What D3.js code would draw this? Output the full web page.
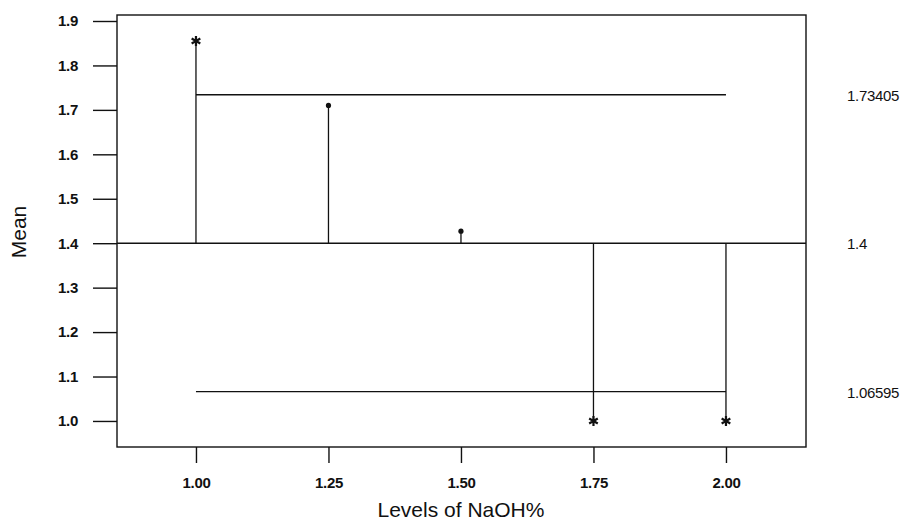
<!DOCTYPE html>
<html>
<head>
<meta charset="utf-8">
<script src="https://cdn.jsdelivr.net/npm/d3@7"></script>
<style>
  body { margin: 0; background: #fff; }
  svg text { font-family: "Liberation Sans", Arial, sans-serif; fill: #111; }
</style>
</head>
<body>
<div id="chart"></div>
<script>
// ANOM chart data
const levels = [1.00, 1.25, 1.50, 1.75, 2.00]
const means = [1.855, 1.71, 1.427, 1.0, 1.0]
const outside = [true, false, false, true, true]
const centerLine = 1.4
const upperLimit = 1.73405
const lowerLimit = 1.06595
const yTicks = [1.0, 1.1, 1.2, 1.3, 1.4, 1.5, 1.6, 1.7, 1.8, 1.9]
const xTicks = [1.00, 1.25, 1.50, 1.75, 2.00]

const width = 907
const height = 525
const padding = { top: 15, right: 101, bottom: 78, left: 117 }
const innerW = width - padding.left - padding.right
const innerH = height - padding.top - padding.bottom

const svg = d3.select('#chart').append('svg').attr('width', width).attr('height', height)

const xScale = d3.scaleLinear().domain([0.851, 2.151]).range([0, innerW])
const yScale = d3.scaleLinear().domain([0.9414, 1.9135]).range([innerH, 0])

const g = svg.append('g').attr('transform', 'translate(' + padding.left + ',' + padding.top + ')')

// frame
g.append('rect')
  .attr('width', innerW).attr('height', innerH)
  .attr('fill', 'none').attr('stroke', '#111').attr('stroke-width', 1.4)

// axes
const yAxis = g.append('g')
  .call(d3.axisLeft(yScale).tickValues(yTicks).tickFormat(d3.format('.1f')).tickSize(24).tickPadding(15))
const xAxis = g.append('g')
  .attr('transform', 'translate(0,' + innerH + ')')
  .call(d3.axisBottom(xScale).tickValues(xTicks).tickFormat(d3.format('.2f')).tickSize(16).tickPadding(14))
;[yAxis, xAxis].forEach(function(a) {
  a.select('.domain').remove()
  a.selectAll('line').attr('stroke', '#111').attr('stroke-width', 1.4)
  a.selectAll('text').style('font-size', '15px').style('font-weight', 'bold')
    .style('letter-spacing', '-0.3px')
    .style('font-family', '"Liberation Sans", Arial, sans-serif').attr('fill', '#111')
})

// center line across the frame
g.append('line')
  .attr('x1', 0).attr('x2', innerW)
  .attr('y1', yScale(centerLine)).attr('y2', yScale(centerLine))
  .attr('stroke', '#111').attr('stroke-width', 1.5)

// decision limits
;[upperLimit, lowerLimit].forEach(function(v) {
  g.append('line')
    .attr('x1', xScale(levels[0])).attr('x2', xScale(levels[levels.length - 1]))
    .attr('y1', yScale(v)).attr('y2', yScale(v))
    .attr('stroke', '#111').attr('stroke-width', 1.3)
})

// stems
g.selectAll('.stem')
  .data(levels)
  .enter()
  .append('line')
  .attr('class', 'stem')
  .attr('x1', function(d) { return xScale(d) })
  .attr('x2', function(d) { return xScale(d) })
  .attr('y1', yScale(centerLine))
  .attr('y2', function(d, i) { return yScale(means[i]) })
  .attr('stroke', '#111').attr('stroke-width', 1.3)

// markers
const star = d3.symbol().type(d3.symbolAsterisk).size(70)
levels.forEach(function(d, i) {
  if (outside[i]) {
    g.append('path')
      .attr('d', star)
      .attr('transform', 'translate(' + xScale(d) + ',' + yScale(means[i]) + ')')
      .attr('stroke', '#111').attr('stroke-width', 2.2).attr('fill', 'none')
  } else {
    g.append('circle')
      .attr('cx', xScale(d)).attr('cy', yScale(means[i]))
      .attr('r', 2.6).attr('fill', '#111')
  }
})

// right-side value labels
;[upperLimit, centerLine, lowerLimit].forEach(function(v) {
  svg.append('text')
    .attr('x', 847)
    .attr('y', padding.top + yScale(v) + 6)
    .style('font-size', '15px')
    .style('letter-spacing', '-0.3px')
    .text(String(v))
})

// axis titles
svg.append('text')
  .attr('x', padding.left + xScale(1.5))
  .attr('y', 517)
  .attr('text-anchor', 'middle')
  .style('font-size', '21px')
  .text('Levels of NaOH%')

svg.append('text')
  .attr('transform', 'translate(26,232) rotate(-90)')
  .attr('text-anchor', 'middle')
  .style('font-size', '21px')
  .text('Mean')
</script>
</body>
</html>
